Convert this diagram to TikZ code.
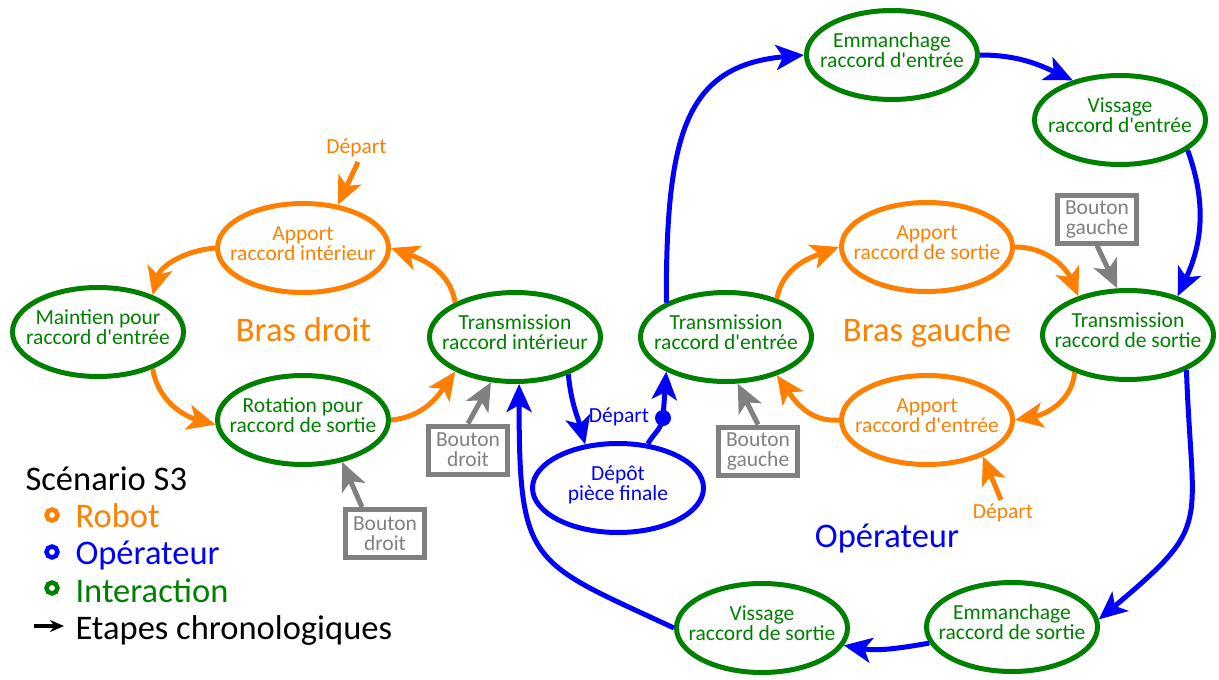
\documentclass[tikz,border=0pt]{standalone}
\usepackage{fontspec}
\setmainfont{Carlito}[Ligatures=TeXOff]
\usetikzlibrary{shapes.geometric,arrows.meta}
\definecolor{cor}{RGB}{255,128,0}
\definecolor{cgr}{RGB}{0,128,0}
\definecolor{cbl}{RGB}{0,0,255}
\definecolor{cgy}{RGB}{128,128,128}
\begin{document}
\begin{tikzpicture}[x=1pt,y=1pt,
  st/.style={ellipse, draw, line width=5pt, minimum width=171pt, minimum height=89pt,
    inner xsep=-30pt, inner ysep=0pt, text height=36pt, text depth=12pt,
    align=center, font=\fontsize{21.5}{20}\selectfont},
  rob/.style={st, draw=cor, text=cor},
  inter/.style={st, draw=cgr, text=cgr},
  oper/.style={st, draw=cbl, text=cbl},
  btn/.style={draw=cgy, text=cgy, line width=5pt, minimum width=79pt, minimum height=48pt,
    inner sep=1pt, align=center, font=\fontsize{21.5}{20}\selectfont},
  arr/.style={line width=5pt, -{Stealth[length=28pt,width=25pt,inset=7pt]}},
  big/.style={font=\fontsize{34.5}{40}\selectfont, anchor=base},
  sm/.style={font=\fontsize{21.5}{20}\selectfont, anchor=base},
  ring/.style={line width=4.5pt},
]
\useasboundingbox (0,0) rectangle (1219,-680);

% states
\node[rob]   (A1) at (303,-248) {Apport\\raccord intérieur};
\node[inter] (M)  at (98,-332)  {Maintien pour\\raccord d'entrée};
\node[inter] (R)  at (303,-420) {Rotation pour\\raccord de sortie};
\node[inter] (T1) at (515,-337) {Transmission\\raccord intérieur};
\node[inter] (T2) at (726,-337) {Transmission\\raccord d'entrée};
\node[oper]  (D)  at (618,-488) {Dépôt\\pièce finale};
\node[inter] (E1) at (892,-55)  {Emmanchage\\raccord d'entrée};
\node[inter] (V1) at (1120,-120) {Vissage\\raccord d'entrée};
\node[rob]   (A2) at (927,-247) {Apport\\raccord de sortie};
\node[inter] (T3) at (1128,-335) {Transmission\\raccord de sortie};
\node[rob]   (A3) at (927,-420) {Apport\\raccord d'entrée};
\node[inter] (E2) at (1012,-627) {Emmanchage\\raccord de sortie};
\node[inter] (V2) at (762,-628) {Vissage\\raccord de sortie};

% buttons
\node[btn] (BD1) at (385,-533.5) {Bouton\\droit};
\node[btn] (BD2) at (468,-450)   {Bouton\\droit};
\node[btn] (BG1) at (758,-451)   {Bouton\\gauche};
\node[btn] (BG2) at (1097,-219)  {Bouton\\gauche};

% big labels
\node[big, text=cor] (lbd) at (303.5,-341) {Bras droit};
\node[big, text=cor] (lbg) at (927,-341) {Bras gauche};
\node[big, text=cbl] (lop) at (887,-547) {Opérateur};

% depart labels
\node[sm, text=cor] (dep1) at (356.5,-153) {Départ};
\coordinate (dep1s) at (358,-162);
\node[sm, text=cor] (dep2) at (1003,-518) {Départ};
\coordinate (dep2s) at (1001,-500);
\node[sm, text=cbl] (dep3) at (619,-422) {Départ};
\node[circle, fill=cbl, inner sep=0pt, minimum size=16pt] (dot) at (663,-418) {};

% orange (robot) steps
\draw[arr, cor] (T1.150) to[out=100,in=-20] (A1.0);
\draw[arr, cor] (A1.180) to[out=185,in=75] (M.34);
\draw[arr, cor] (M.-34) to[out=-80,in=165] (R.183);
\draw[arr, cor] (R.0) to[out=5,in=235] (T1.210);
\draw[arr, cor] (T2.37) to[out=80,in=200] (A2.180);
\draw[arr, cor] (A2.0) to[out=0,in=113] (T3.142);
\draw[arr, cor] (T3.215) to[out=-95,in=10] (A3.0);
\draw[arr, cor] (A3.180) to[out=185,in=-55] (T2.-37);
\draw[arr, cor] (dep1s) -- (A1.51);
\draw[arr, cor] (dep2s) -- (A3.-33);

% blue (operator) steps
\draw[arr, cbl] (T1.-35) to[out=-85,in=105] (D.127);
\draw[arr, cbl] (D.56) to[out=60,in=-100] (dot.center) -- (T2.210);
\draw[arr, cbl] (T2.150) to[out=90,in=185,out distance=167pt,in distance=120pt] (E1.180);
\draw[arr, cbl] (E1.0) to[out=0,in=155] (V1.140);
\draw[arr, cbl] (V1.-24) to[out=-70,in=65] (T3.38);
\draw[arr, cbl] (T3.-31) to[out=-88,in=40,out distance=160pt,in distance=150pt] (E2.5);
\draw[arr, cbl] (E2.191) to[out=190,in=-10] (V2.-12);
\draw[arr, cbl] (V2.180) to[out=155,in=-90,out distance=158pt,in distance=183pt] (T1.275);

% buttons arrows
\draw[arr, cgy] (BD1.131) -- (R.-47);
\draw[arr, cgy] (BD2.north) -- (T1.242);
\draw[arr, cgy] (BG1.north) -- (T2.-76);
\draw[arr, cgy] (BG2.south) -- (T3.103);

% legend
\node[big, anchor=base west] (lg0) at (22,-490) {Scénario S3};
\node[big, anchor=base west, text=cor] (lg1) at (72,-527) {Robot};
\node[big, anchor=base west, text=cbl] (lg2) at (72,-564) {Opérateur};
\node[big, anchor=base west, text=cgr] (lg3) at (72,-602) {Interaction};
\node[big, anchor=base west] (lg4) at (72,-639) {Etapes chronologiques};
\draw[ring, cor] (52,-515) circle (5.5);
\draw[ring, cbl] (52,-552) circle (5.5);
\draw[ring, cgr] (52,-588) circle (5.5);
\coordinate (la) at (34,-626);
\coordinate (lb) at (64,-626);
\draw[line width=3.5pt, -{Stealth[length=14pt,width=12pt]}] (la) -- (lb);
\end{tikzpicture}
\end{document}
